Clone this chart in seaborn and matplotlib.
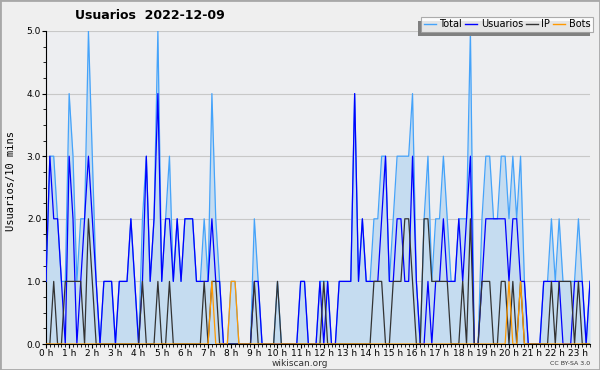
import numpy as np
import pandas as pd
import seaborn as sns
import matplotlib.pyplot as plt
from matplotlib.lines import Line2D
from matplotlib.patches import Rectangle
from matplotlib.ticker import MultipleLocator

# 10-minute bins, 00:00 .. 23:30
usuarios = [1, 3, 2, 2, 1, 0, 3, 2, 0, 1,
            2, 3, 2, 1, 0, 1, 1, 1, 0, 1,
            1, 1, 2, 1, 0, 1, 3, 1, 2, 4,
            1, 2, 2, 1, 2, 1, 2, 2, 2, 1,
            1, 1, 1, 2, 1, 1, 0, 0, 0, 0,
            0, 0, 0, 0, 1, 1, 0, 0, 0, 0,
            0, 0, 0, 0, 0, 0, 1, 1, 0, 0,
            0, 1, 0, 1, 0, 0, 1, 1, 1, 1,
            4, 1, 2, 1, 1, 1, 1, 2, 3, 1,
            1, 2, 2, 1, 1, 3, 1, 0, 0, 1,
            0, 1, 1, 2, 1, 1, 1, 2, 1, 2,
            3, 0, 0, 1, 2, 2, 2, 2, 2, 2,
            1, 2, 2, 1, 1, 0, 0, 0, 0, 1,
            1, 1, 1, 1, 0, 0, 0, 1, 1, 1,
            0, 1]
ip = [0, 0, 1, 0, 0, 1, 1, 1, 1, 1,
      0, 2, 1, 0, 0, 0, 0, 0, 0, 0,
      0, 0, 0, 0, 0, 1, 0, 0, 0, 1,
      0, 0, 1, 0, 0, 0, 0, 0, 0, 0,
      0, 1, 0, 1, 1, 0, 0, 0, 0, 0,
      0, 0, 0, 0, 1, 0, 0, 0, 0, 0,
      1, 0, 0, 0, 0, 0, 0, 0, 0, 0,
      0, 0, 1, 0, 0, 0, 0, 0, 0, 0,
      0, 0, 0, 0, 0, 1, 1, 1, 0, 0,
      1, 1, 1, 2, 2, 1, 0, 0, 2, 2,
      1, 1, 1, 1, 1, 0, 0, 0, 1, 0,
      2, 0, 0, 1, 1, 1, 0, 0, 1, 1,
      0, 1, 0, 1, 0, 0, 0, 0, 0, 0,
      0, 1, 0, 1, 1, 1, 1, 0, 1, 0,
      0, 0]
bots = [0] * 142
for k in (43, 48, 49, 120, 123):
    bots[k] = 1
total = [1, 3, 3, 2, 1, 1, 4, 3, 1, 2,
         2, 5, 3, 1, 0, 1, 1, 1, 0, 1,
         1, 1, 2, 1, 0, 2, 3, 1, 2, 5,
         1, 2, 3, 1, 2, 1, 2, 2, 2, 1,
         1, 2, 1, 4, 2, 1, 0, 0, 1, 1,
         0, 0, 0, 0, 2, 1, 0, 0, 0, 0,
         1, 0, 0, 0, 0, 0, 1, 1, 0, 0,
         0, 1, 1, 1, 0, 0, 1, 1, 1, 1,
         4, 1, 2, 1, 1, 2, 2, 3, 3, 1,
         2, 3, 3, 3, 3, 4, 1, 0, 2, 3,
         1, 2, 2, 3, 2, 1, 1, 2, 2, 2,
         5, 0, 0, 2, 3, 3, 2, 2, 3, 3,
         2, 3, 2, 3, 1, 0, 0, 0, 0, 1,
         1, 2, 1, 2, 1, 1, 1, 1, 2, 1,
         0, 1]
hours = np.arange(len(total)) / 6

df = pd.DataFrame({"h": hours, "Total": total, "Usuarios": usuarios, "IP": ip, "Bots": bots})
colors = {"Total": "#45a3fa", "Usuarios": "#0000ff", "IP": "#333333", "Bots": "#ff9900"}

fig = plt.figure(figsize=(6, 3.7), dpi=100, facecolor="#efefef")
ax = fig.add_axes([46 / 600, 26 / 370, 544 / 600, 313 / 370])
ax.set_facecolor("#edeef1")

ax.fill_between(df["h"], df["Total"], color="#c5dcf0", lw=0, zorder=1)
for name in ["Total", "Usuarios", "IP", "Bots"]:
    sns.lineplot(data=df, x="h", y=name, ax=ax, color=colors[name], lw=0.9, zorder=3)

ax.set_xlim(0, hours[-1])
ax.set_ylim(0, 5)
ax.xaxis.set_major_locator(MultipleLocator(1))
ax.xaxis.set_minor_locator(MultipleLocator(1 / 6))
ax.yaxis.set_major_locator(MultipleLocator(1))
ax.yaxis.set_minor_locator(MultipleLocator(0.25))
ax.set_xticks(range(24))
ax.set_xticklabels([f"{t} h" for t in range(24)])
ax.set_yticks(range(6))
ax.set_yticklabels([f"{v:.1f}" for v in range(6)])
ax.tick_params(labelsize=6.5, length=3, width=0.8, pad=0.5)
ax.tick_params(which="minor", length=2, width=0.6)
ax.grid(axis="y", color="#c8c8c8", lw=0.8, zorder=0)
ax.set_axisbelow(True)
for s in ["top", "right"]:
    ax.spines[s].set_visible(False)
ax.set_xlabel("")
ax.set_ylabel("")

fig.text(0.25, 0.957, "Usuarios  2022-12-09", ha="center", va="center", fontsize=9, fontweight="bold")
fig.text(0.018, 0.51, "Usuarios/10 mins", rotation=90, ha="center", va="center",
         fontsize=7.5, family="DejaVu Sans Mono")
fig.text(0.5, 0.017, "wikiscan.org", ha="center", va="center", fontsize=6.5, color="#333333")
fig.text(0.983, 0.017, "CC BY-SA 3.0", ha="right", va="center", fontsize=4.5, color="#333333")

handles = [Line2D([], [], color=colors[n], lw=1) for n in colors]
leg = fig.legend(handles, list(colors), loc="upper right", bbox_to_anchor=(0.988, 0.955),
                 ncol=4, fontsize=7, frameon=True, fancybox=False, edgecolor="#999999",
                 handlelength=1.2, handletextpad=0.4, columnspacing=0.3, borderpad=0.25,
                 borderaxespad=0)
leg.get_frame().set_linewidth(0.8)
leg.set_zorder(6)
fig.canvas.draw()
bb = leg.get_window_extent()
fig.patches.append(Rectangle((bb.x0 - 3, bb.y0 - 4), bb.width, bb.height, transform=None,
                             facecolor="#808080", edgecolor="none", zorder=5))
fig.patches.append(Rectangle((0, 0), 1, 1, transform=fig.transFigure, fill=False,
                             edgecolor="#a8a8a8", lw=2, zorder=10))

fig.savefig("out.png", dpi=100, facecolor=fig.get_facecolor())
